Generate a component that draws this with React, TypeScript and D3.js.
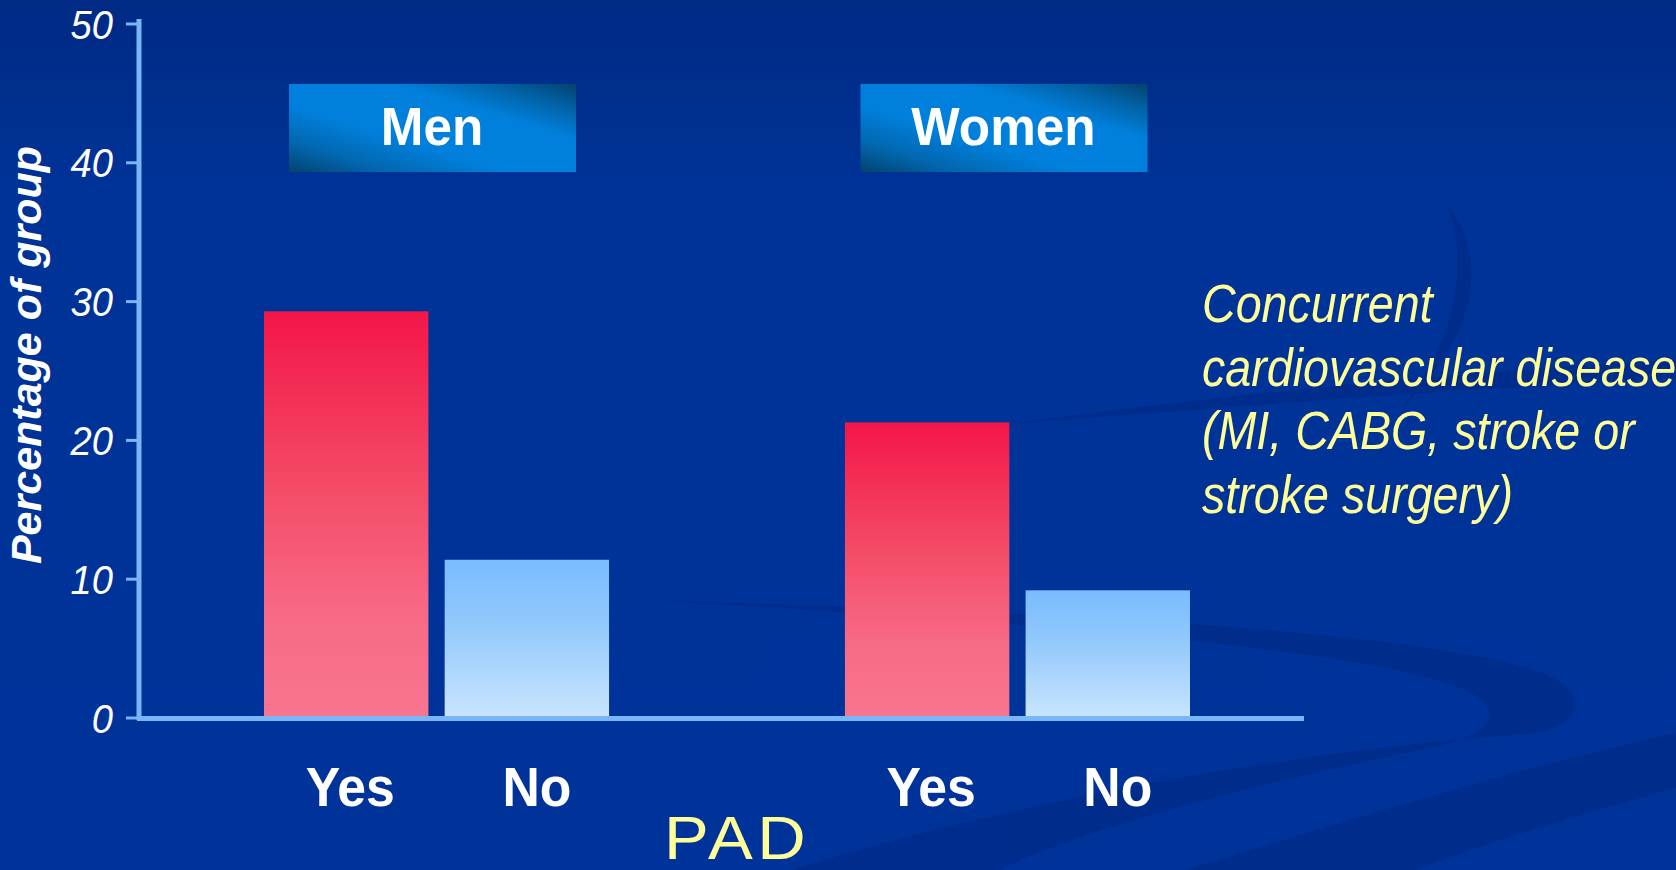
import React from "react";
import * as d3 from "d3";

// ---- data ----
const groups = ["Men", "Women"];
const padStatus = ["Yes", "No"];
const menValues = [29.3, 11.4];
const womenValues = [21.3, 9.2];
const yTicks = [0, 10, 20, 30, 40, 50];
const yTitle = "Percentage of group";
const xTitle = "PAD";
const noteLines = [
  "Concurrent",
  "cardiovascular disease",
  "(MI, CABG, stroke or",
  "stroke surgery)",
];

const W = 1676;
const H = 870;
const FONT = "'Liberation Sans', Arial, Helvetica, sans-serif";

export default function App() {
  const valuesByGroup: Record<string, number[]> = { Men: menValues, Women: womenValues };

  const y = d3.scaleLinear().domain([0, 50]).range([718, 24]);
  const x0 = d3.scaleBand().domain(groups).range([264, 1190]).paddingInner(0.406).paddingOuter(0);
  const x1 = d3.scaleBand().domain(padStatus).range([0, x0.bandwidth()]).paddingInner(0.09).paddingOuter(0);
  // header boxes sit on their own evenly spaced positions
  const boxX = d3.scalePoint().domain(groups).range([432, 1003.5]);

  const axisColor = "#78b6f6";

  return (
    <div style={{ position: "fixed", left: 0, top: 0, width: W, height: H }}>
      <svg width={W} height={H} style={{ display: "block" }}>
        <defs>
          <linearGradient id="bg" x1="0" y1="0" x2="0" y2="1">
            <stop offset="0" stopColor="#002a84" />
            <stop offset="0.22" stopColor="#003398" />
            <stop offset="1" stopColor="#003399" />
          </linearGradient>
          <linearGradient id="red" x1="0" y1="0" x2="0" y2="1">
            <stop offset="0" stopColor="#f31648" />
            <stop offset="0.45" stopColor="#f44d68" />
            <stop offset="0.75" stopColor="#f76a86" />
            <stop offset="1" stopColor="#f8758f" />
          </linearGradient>
          <linearGradient id="blue" x1="0" y1="0" x2="0" y2="1">
            <stop offset="0" stopColor="#78bcff" />
            <stop offset="0.4" stopColor="#92c8fc" />
            <stop offset="1" stopColor="#c8e4fe" />
          </linearGradient>
          <linearGradient id="box" x1="1" y1="0" x2="0" y2="1">
            <stop offset="0" stopColor="#03426e" />
            <stop offset="0.17" stopColor="#0266ae" />
            <stop offset="0.32" stopColor="#0080dc" />
            <stop offset="0.62" stopColor="#0080dc" />
            <stop offset="0.83" stopColor="#0266ae" />
            <stop offset="1" stopColor="#03426e" />
          </linearGradient>
        </defs>

        {/* background */}
        <rect x={0} y={0} width={W} height={H} fill="url(#bg)" />
        <g fill="#00267a" opacity={0.4}>
          {/* big looping ribbon */}
          <path d="M 790 870 C 1050 790 1350 745 1520 735 C 1590 728 1590 690 1540 672 C 1420 630 1050 612 640 600 C 1050 622 1380 652 1465 690 C 1510 712 1490 735 1430 748 C 1250 785 1080 830 1000 870 Z" />
          {/* bottom diagonal band */}
          <path d="M 1185 870 C 1350 820 1500 772 1676 733 L 1676 788 C 1560 820 1480 845 1416 870 Z" />
          {/* thin arc near top right */}
          <path d="M 1447 205 C 1485 250 1485 330 1400 410 C 1460 335 1468 262 1447 205 Z" />
          {/* faint ribbon behind the annotation */}
          <path d="M 1000 425 C 1250 392 1450 372 1676 360 L 1676 378 C 1450 390 1250 405 1000 425 Z" />
        </g>

        {/* bars */}
        {groups.map((g) => (
          <g key={g} transform={`translate(${x0(g)},0)`}>
            {padStatus.map((p, i) => {
              const v = valuesByGroup[g][i];
              return (
                <rect
                  key={p}
                  x={x1(p)}
                  y={y(v)}
                  width={x1.bandwidth()}
                  height={y(0) - y(v) - 2}
                  fill={p === "Yes" ? "url(#red)" : "url(#blue)"}
                />
              );
            })}
          </g>
        ))}

        {/* y axis */}
        <line x1={139} x2={139} y1={19} y2={720} stroke={axisColor} strokeWidth={5} />
        {yTicks.map((t) => (
          <g key={t}>
            <line x1={126} x2={139} y1={y(t)} y2={y(t)} stroke={axisColor} strokeWidth={3} />
            <text
              transform={`translate(113,${y(t) + 14.5}) scale(0.93,1)`}
              textAnchor="end"
              fontFamily={FONT}
              fontStyle="italic"
              fontSize={41}
              fill="#ffffff"
            >
              {t}
            </text>
          </g>
        ))}
        {/* x axis */}
        <line x1={137} x2={1304} y1={y(0) + 0.5} y2={y(0) + 0.5} stroke={axisColor} strokeWidth={5} />

        {/* y title */}
        <text
          transform="translate(41,355) rotate(-90)"
          textAnchor="middle"
          fontFamily={FONT}
          fontStyle="italic"
          fontWeight="bold"
          fontSize={43}
          fill="#ffffff"
        >
          {yTitle}
        </text>

        {/* group label boxes */}
        {groups.map((g) => {
          const cx = boxX(g) as number;
          return (
            <g key={g}>
              <rect x={cx - 143} y={84} width={287} height={88} fill="url(#box)" />
              <text
                transform={`translate(${cx},145) scale(0.95,1)`}
                textAnchor="middle"
                fontFamily={FONT}
                fontWeight="bold"
                fontSize={54}
                fill="#ffffff"
              >
                {g}
              </text>
            </g>
          );
        })}

        {/* x category labels */}
        {groups.map((g) =>
          padStatus.map((p) => {
            const cx = (x0(g) as number) + (x1(p) as number) + x1.bandwidth() / 2 + (p === "No" ? 10 : 4);
            return (
              <text
                key={g + p}
                transform={`translate(${cx},806) scale(0.94,1)`}
                textAnchor="middle"
                fontFamily={FONT}
                fontWeight="bold"
                fontSize={55}
                fill="#ffffff"
              >
                {p}
              </text>
            );
          })
        )}

        {/* x title */}
        <text
          transform="translate(737,859) scale(1.1,1)"
          textAnchor="middle"
          fontFamily={FONT}
          fontSize={61}
          letterSpacing={4}
          fill="#ffff99"
        >
          {xTitle}
        </text>

        {/* annotation */}
        {noteLines.map((line, i) => (
          <text
            key={i}
            transform={`translate(1202,${322 + i * 63.7}) scale(0.88,1)`}
            fontFamily={FONT}
            fontStyle="italic"
            fontSize={53}
            fill="#ffff99"
          >
            {line}
          </text>
        ))}
      </svg>
    </div>
  );
}
